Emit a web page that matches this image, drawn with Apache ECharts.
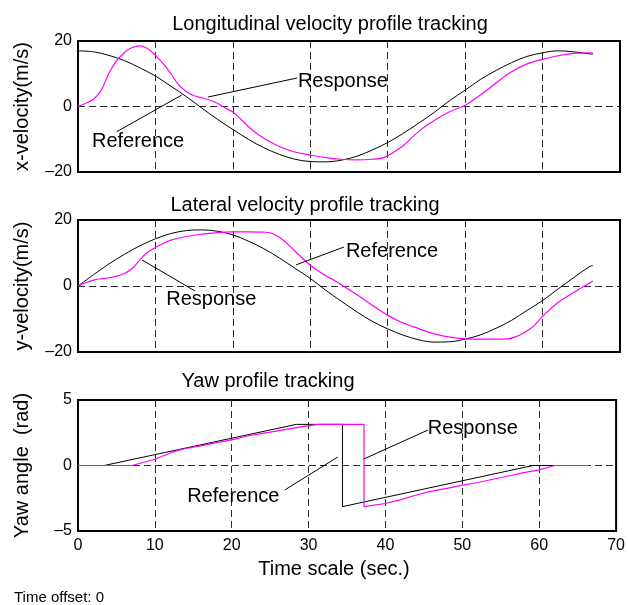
<!DOCTYPE html>
<html>
<head>
<meta charset="utf-8">
<script src="https://cdn.jsdelivr.net/npm/echarts@6/dist/echarts.min.js"></script>
<style>
  html, body { margin: 0; padding: 0; background: #fff; }
  #chart { width: 628px; height: 605px; }
</style>
</head>
<body>
<div id="chart"></div>
<script>
// ---- Longitudinal velocity (m/s) ----
const xvelRefT  = [0,2,4,6,8,10,12,14,16,18,20,22,24,26,28,30,32,34,36,38,40,42,44,46,48,50,52,54,56,58,60,62,64,66,66.5];
const xvelRef   = [17.0,16.7,15.6,14.0,11.8,9.3,6.2,3.0,-0.5,-3.9,-7.0,-10.0,-12.6,-14.6,-16.1,-16.8,-16.9,-16.4,-15.2,-13.3,-11.0,-8.2,-5.1,-1.8,1.8,5.0,8.3,11.0,13.4,15.3,16.4,17.0,16.7,16.1,15.9];
const xvelRespT = [0,1,2,3,4,5,6,7,8,9,10,11,12,13,14,15,16,17,18,19,20,21,22,23,24,26,28,30,32,34,36,38,39.5,41,42,44,46,48,50,52,54,56,58,60,62,64,66,66.5];
const xvelResp  = [0,1.0,2.2,5.0,10.2,14.0,16.5,18.0,18.5,17.6,15.6,13.1,10.0,6.6,4.6,3.3,2.6,2.0,1.0,-0.4,-1.7,-3.8,-6.1,-8.1,-9.7,-12.2,-13.9,-14.8,-15.6,-16.1,-16.3,-16.1,-15.6,-13.6,-12.0,-7.6,-4.3,-1.6,0.4,3.6,7.2,10.6,13.0,14.4,15.5,16.2,16.4,16.4];

// ---- Lateral velocity (m/s) ----
const yvelRefT  = [0,2,4,6,8,10,12,14,16,18,20,22,24,26,28,30,32,34,36,38,40,42,44,46,48,50,52,54,56,58,60,62,64,66,66.5];
const yvelRef   = [0,3.4,6.7,9.6,12.2,14.3,15.9,16.8,17.0,16.6,15.5,13.6,11.3,8.5,5.4,2.3,-1.3,-4.6,-7.8,-10.7,-13.0,-14.9,-16.3,-17.0,-16.9,-16.1,-14.8,-12.8,-10.4,-7.4,-4.4,-0.9,2.5,5.8,6.2];
const yvelRespT = [0,1,2,3,4,5,6,7,8,9,10,11,12,14,16,18,20,22,24,25,26,27,28,29,30,31,32,33,34,36,38,40,42,44,46,48,50,52,54,55.5,56.5,57.5,58.5,59,60,61,62,64,66,66.5];
const yvelResp  = [0,1.0,1.8,2.2,2.5,3.0,3.8,5.3,8.0,10.2,11.7,12.9,13.9,15.0,15.7,16.2,16.4,16.4,16.3,16.0,14.8,12.9,10.6,8.4,6.3,4.6,3.1,1.8,0.4,-2.6,-5.8,-8.9,-11.2,-12.9,-14.5,-15.5,-16.0,-16.1,-16.1,-16.0,-15.4,-14.3,-12.8,-11.8,-9.2,-7.0,-5.0,-2.0,0.8,1.5];

// ---- Yaw angle (rad) ----
const yawRefT   = [0,3.4,28.4,34.4,34.4,59.2,66.5];
const yawRef    = [0,0,3.14,3.14,-3.14,0,0];
const yawRespT  = [0,7,8,10,12,13,14,16,18,20,22,24,26,28,30,31.3,37.2,37.2,40,42,44,46,48,50,52,54,56,58,60,62,66.5];
const yawResp   = [0,0,0.15,0.48,0.95,1.15,1.3,1.5,1.75,1.95,2.25,2.45,2.65,2.85,3.05,3.14,3.14,-3.14,-2.9,-2.6,-2.25,-1.95,-1.75,-1.5,-1.3,-1.05,-0.8,-0.55,-0.33,0,0];

// ---- Axis ranges and ticks ----
const timeTicks = [0, 70, 10];          // min, max, interval
const yRanges   = [[-20, 20, 20], [-20, 20, 20], [-5, 5, 5]];

const titles  = ['Longitudinal velocity profile tracking', 'Lateral velocity profile tracking', 'Yaw profile tracking'];
const yNames  = ['x-velocity(m/s)', 'y-velocity(m/s)', 'Yaw angle  (rad)'];
const xName   = 'Time scale (sec.)';
const footer  = 'Time offset: 0';

// ---- Layout ----
const FONT = '"Liberation Sans", Arial, Helvetica, sans-serif';
const LEFT = 78, WIDTH = 542;
const gridBoxes = [{ top: 41, height: 131 }, { top: 220, height: 132 }, { top: 400, height: 131 }];
const titlePos  = [[330, 24], [305, 205], [268, 381]];
const yNameX    = 22;

// callout lines: text anchor and line ends, in each panel's data units
const callouts = [
  { g: 0, text: 'Response',  at: [28.4, 7.5],   from: [28.3, 8.7],  to: [16.8, 2.9] },
  { g: 0, text: 'Reference', at: [1.8, -10.8],  from: [5.0, -7.7],  to: [13.4, 3.5] },
  { g: 1, text: 'Reference', at: [34.6, 10.4],  from: [34.35, 11.8], to: [28.15, 6.4] },
  { g: 1, text: 'Response',  at: [11.4, -4.2],  from: [15.1, -1.5], to: [8.27, 7.9] },
  { g: 2, text: 'Response',  at: [45.5, 2.86],  from: [45.5, 2.7],  to: [37.2, 0.5] },
  { g: 2, text: 'Reference', at: [14.2, -2.33], from: [26.9, -1.87], to: [33.8, 0.65] }
];

const zip = (t, v) => t.map((x, i) => [x, v[i]]);
const dashed = { show: true, showMinLine: false, showMaxLine: false,
                 lineStyle: { color: '#2a2a2a', width: 1, type: [7, 4] } };
const minus = v => String(v).replace('-', '\u2013');

const grid = gridBoxes.map(b => ({
  left: LEFT, width: WIDTH, top: b.top, height: b.height,
  show: true, borderColor: '#000', borderWidth: 2, backgroundColor: 'transparent'
}));

const xAxis = gridBoxes.map((b, i) => ({
  type: 'value', gridIndex: i,
  min: timeTicks[0], max: timeTicks[1], interval: timeTicks[2],
  axisLine: { show: false }, axisTick: { show: false },
  axisLabel: { show: i === 2, color: '#000', fontFamily: FONT, fontSize: 16, margin: 7,
               alignMinLabel: 'center', alignMaxLabel: 'center' },
  splitLine: dashed
}));

const yAxis = yRanges.map((r, i) => ({
  type: 'value', gridIndex: i, min: r[0], max: r[1], interval: r[2],
  axisLine: { show: false }, axisTick: { show: false },
  axisLabel: { color: '#000', fontFamily: FONT, fontSize: 16, margin: 6, formatter: minus },
  splitLine: dashed
}));

const panels = [
  [xvelRefT, xvelRef, xvelRespT, xvelResp, 0.35],
  [yvelRefT, yvelRef, yvelRespT, yvelResp, 0.35],
  [yawRefT, yawRef, yawRespT, yawResp, false]
];
const series = [];
panels.forEach((p, i) => {
  series.push({
    type: 'line', xAxisIndex: i, yAxisIndex: i, data: zip(p[0], p[1]),
    showSymbol: false, smooth: p[4], lineStyle: { color: '#000', width: 1 }, z: 5, silent: true
  });
  series.push({
    type: 'line', xAxisIndex: i, yAxisIndex: i, data: zip(p[2], p[3]),
    showSymbol: false, smooth: p[4], lineStyle: { color: '#ff00ff', width: 1.2 }, z: 6, silent: true
  });
});

const chart = echarts.init(document.getElementById('chart'), null, { renderer: 'canvas' });
chart.setOption({ animation: false, backgroundColor: '#fff', grid, xAxis, yAxis, series });

// ---- Text and callouts ----
const textStyle = (txt, size, align) => ({
  text: txt, fill: '#000', font: size + 'px ' + FONT, textAlign: align, textVerticalAlign: 'middle'
});
const graphic = [];
titles.forEach((t, i) => graphic.push({ type: 'text', x: titlePos[i][0], y: titlePos[i][1], style: textStyle(t, 20, 'center') }));
yNames.forEach((t, i) => {
  const b = gridBoxes[i];
  graphic.push({ type: 'text', x: yNameX, y: b.top + b.height / 2, rotation: Math.PI / 2,
                 style: textStyle(t, 20, 'center') });
});
graphic.push({ type: 'text', x: 334, y: 569, style: textStyle(xName, 20, 'center') });
graphic.push({ type: 'text', x: 14, y: 598, style: textStyle(footer, 15, 'left') });

callouts.forEach(c => {
  const a = chart.convertToPixel({ gridIndex: c.g }, c.at);
  const f = chart.convertToPixel({ gridIndex: c.g }, c.from);
  const t = chart.convertToPixel({ gridIndex: c.g }, c.to);
  graphic.push({ type: 'line', shape: { x1: f[0], y1: f[1], x2: t[0], y2: t[1] },
                 style: { stroke: '#000', lineWidth: 1 }, z: 10 });
  graphic.push({ type: 'text', x: a[0], y: a[1], style: textStyle(c.text, 20, 'left'), z: 10 });
});
chart.setOption({ graphic });
</script>
</body>
</html>
